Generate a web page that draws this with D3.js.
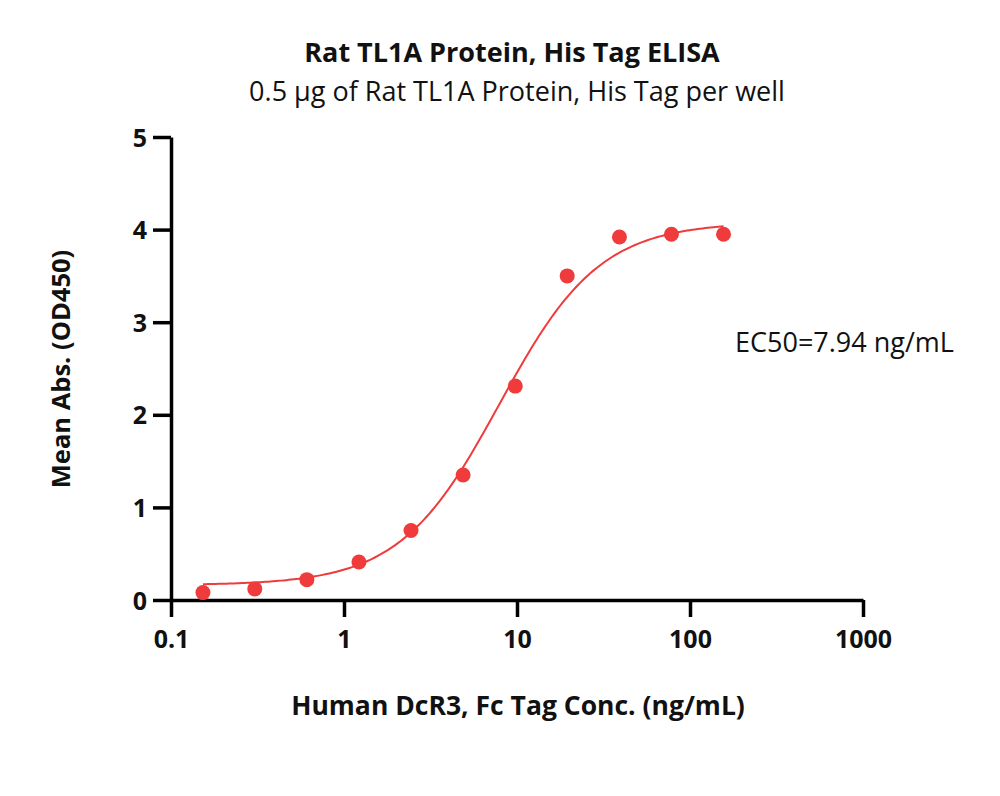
<!DOCTYPE html>
<html>
<head>
<meta charset="utf-8">
<script src="https://cdn.jsdelivr.net/npm/d3@7"></script>
<style>
  body { margin: 0; background: #fff; }
  text { font-family: "Open Sans", sans-serif; fill: #111; }
</style>
</head>
<body>
<svg id="chart" width="1000" height="796"></svg>
<script>
// measured points
var conc = [0.153, 0.305, 0.61, 1.22, 2.44, 4.88, 9.77, 19.5, 39.1, 78.1, 156.25];
var absorb = [0.08, 0.12, 0.22, 0.41, 0.75, 1.35, 2.31, 3.50, 3.92, 3.95, 3.95];
// 4PL fit shown in the chart
var fitBottom = 0.16, fitTop = 4.08, fitEC50 = 7.94, fitHill = 1.5;
var xTicks = [0.1, 1, 10, 100, 1000];
var yTicks = [0, 1, 2, 3, 4, 5];

var svg = d3.select("#chart"),
    margin = {top: 137, right: 137, bottom: 196, left: 171},
    width = 1000 - margin.left - margin.right,
    height = 796 - margin.top - margin.bottom,
    red = "#ef3b3b",
    font = "'Open Sans', sans-serif";

var x = d3.scaleLog().domain([0.1, 1000]).range([0, width]),
    y = d3.scaleLinear().domain([0, 5]).range([height, 0]);

var g = svg.append("g")
    .attr("transform", "translate(" + margin.left + "," + margin.top + ")");

function fit(c) {
  return fitBottom + (fitTop - fitBottom) / (1 + Math.pow(fitEC50 / c, fitHill));
}

// axes
var xAxis = g.append("g")
    .attr("transform", "translate(0," + height + ")")
    .call(d3.axisBottom(x).tickValues(xTicks).tickFormat(d3.format("")).tickSize(17).tickPadding(13).tickSizeOuter(0));
var yAxis = g.append("g")
    .call(d3.axisLeft(y).tickValues(yTicks).tickFormat(d3.format("d")).tickSize(18).tickPadding(6).tickSizeOuter(0));

[xAxis, yAxis].forEach(function(a) {
  a.select(".domain").attr("stroke", "#000").attr("stroke-width", 3.5);
  a.selectAll(".tick line").attr("stroke", "#000").attr("stroke-width", 3.5);
  a.selectAll(".tick text")
    .style("font-family", font)
    .style("font-size", "25px")
    .style("font-weight", "bold")
    .attr("fill", "#111");
});
yAxis.selectAll(".tick text").attr("dy", "0.36em");

// fitted curve
var curveX = d3.range(0, 201).map(function(i) {
  var lo = Math.log10(conc[0]), hi = Math.log10(conc[conc.length - 1]);
  return Math.pow(10, lo + (hi - lo) * i / 200);
});
g.append("path")
    .datum(curveX)
    .attr("fill", "none")
    .attr("stroke", red)
    .attr("stroke-width", 2)
    .attr("d", d3.line()
      .x(function(d) { return x(d); })
      .y(function(d) { return y(fit(d)); }));

// points
g.selectAll(".pt")
  .data(conc)
  .enter().append("circle")
    .attr("class", "pt")
    .attr("cx", function(d) { return x(d); })
    .attr("cy", function(d, i) { return y(absorb[i]); })
    .attr("r", 7.5)
    .attr("fill", red);

// titles
svg.append("text")
    .attr("x", 512).attr("y", 62)
    .attr("text-anchor", "middle")
    .style("font-size", "27px").style("font-weight", "bold")
    .text("Rat TL1A Protein, His Tag ELISA");
svg.append("text")
    .attr("x", 517).attr("y", 101)
    .attr("text-anchor", "middle")
    .style("font-size", "27px")
    .text("0.5 µg of Rat TL1A Protein, His Tag per well");
svg.append("text")
    .attr("transform", "translate(70," + 369 + ") rotate(-90)")
    .attr("text-anchor", "middle")
    .style("font-size", "25.5px").style("font-weight", "bold")
    .text("Mean Abs. (OD450)");
svg.append("text")
    .attr("x", 518).attr("y", 715)
    .attr("text-anchor", "middle")
    .style("font-size", "26.5px").style("font-weight", "bold")
    .text("Human DcR3, Fc Tag Conc. (ng/mL)");
svg.append("text")
    .attr("x", 735).attr("y", 352)
    .style("font-size", "27px")
    .text("EC50=7.94 ng/mL");
</script>
</body>
</html>
